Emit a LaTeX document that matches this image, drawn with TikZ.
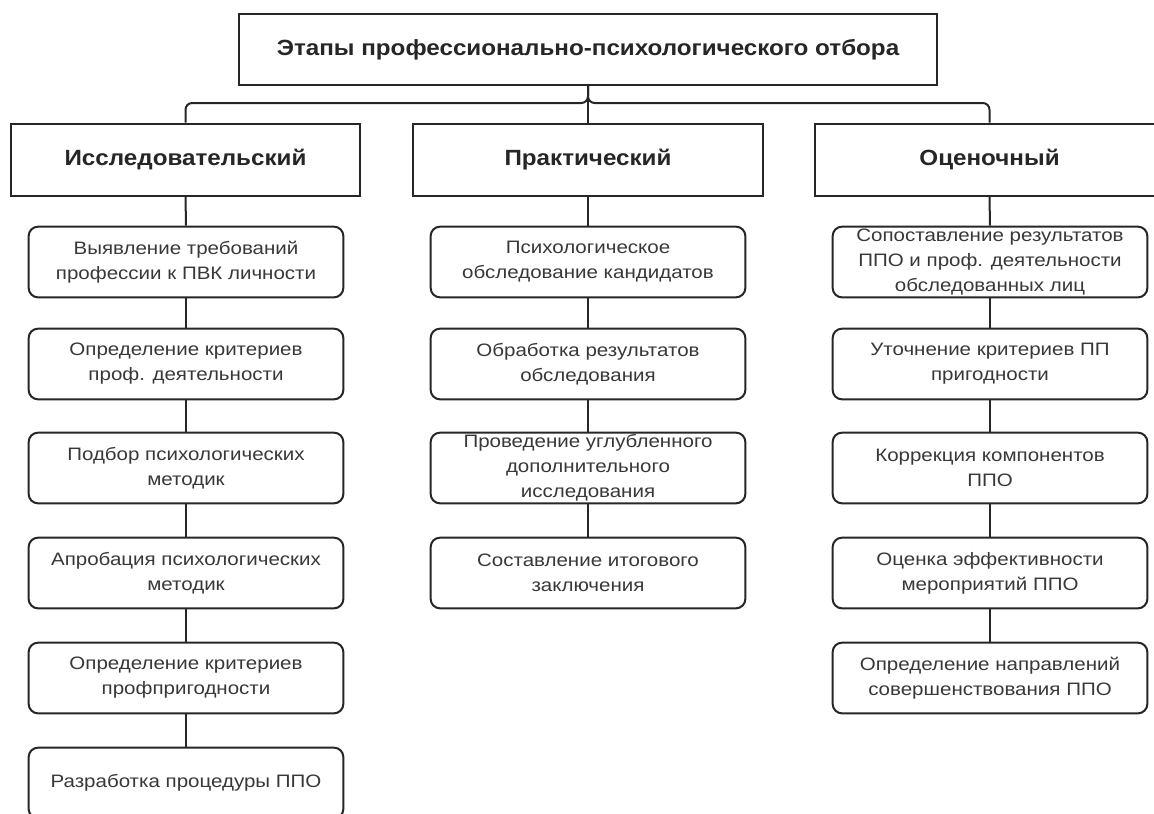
\documentclass[tikz,border=0pt]{standalone}
\usepackage{fontspec}
\setmainfont{Liberation Sans}
\newfontfamily\stagefont[FakeStretch=1.14]{Liberation Sans}
\newfontfamily\headfont[FakeStretch=1.1]{Liberation Sans}
\usetikzlibrary{positioning}
\definecolor{ppoink}{HTML}{262626}
\definecolor{ppotext}{HTML}{383838}
\tikzset{
  head/.style={draw=ppoink, line width=1.5pt, fill=white, inner sep=0pt, minimum width=262pt, minimum height=54pt, font=\headfont\fontsize{16.5}{19}\selectfont\bfseries, text=ppoink},
  stage/.style={draw=ppoink, line width=1.5pt, fill=white, rounded corners=7pt, inner sep=0pt, minimum width=236pt, minimum height=53pt, align=center, font=\stagefont\fontsize{13.5}{18.75}\selectfont, text=ppotext},
  link/.style={draw=ppoink, line width=1.5pt},
}

\begin{document}
\begin{tikzpicture}[x=0.75pt,y=-0.75pt]
  \useasboundingbox (0,0) rectangle (1154,814);
  % top and stage headers
  \node[head, minimum width=524pt, minimum height=53pt] (top) at (588,49.5) {Этапы профессионально-психологического отбора};
  \node[head] (hd1) at (185.5,159.5) {Исследовательский};
  \node[head] (hd2) at (588,159.5) {Практический};
  \node[head] (hd3) at (989.5,159.5) {Оценочный};
  \coordinate (bus) at (588,103);
  \draw[link, rounded corners=5pt] (top.south) -- (bus) -| (hd1.north);
  \draw[link, rounded corners=5pt] (top.south) -- (bus) -| (hd3.north);
  \draw[link] (top.south) -- (hd2.north);
  % columns
  \foreach \y/\t [count=\i] in {262/{Выявление требований\\профессии к ПВК личности},
      364/{Определение критериев\\проф. деятельности},
      468/{Подбор психологических\\методик},
      573/{Апробация психологических\\методик},
      678/{Определение критериев\\профпригодности},
      783/{Разработка процедуры ППО}}
    \node[stage] (r\i) at (186,\y) {\t};
  \foreach \y/\t [count=\i] in {262/{Психологическое\\обследование кандидатов},
      364/{Обработка результатов\\обследования},
      468/{Проведение углубленного\\дополнительного\\исследования},
      573/{Составление итогового\\заключения}}
    \node[stage] (p\i) at (588,\y) {\t};
  \foreach \y/\t [count=\i] in {262/{Сопоставление результатов\\ППО и проф. деятельности\\обследованных лиц},
      364/{Уточнение критериев ПП\\пригодности},
      468/{Коррекция компонентов\\ППО},
      573/{Оценка эффективности\\мероприятий ППО},
      678/{Определение направлений\\совершенствования ППО}}
    \node[stage] (o\i) at (990,\y) {\t};
  % links
  \draw[link] (hd1.south) -- (r1.north);
  \draw[link] (hd2.south) -- (p1.north);
  \draw[link] (hd3.south) -- (o1.north);
  \foreach \a/\b in {1/2,2/3,3/4,4/5,5/6} \draw[link] (r\a.south) -- (r\b.north);
  \foreach \a/\b in {1/2,2/3,3/4} \draw[link] (p\a.south) -- (p\b.north);
  \foreach \a/\b in {1/2,2/3,3/4,4/5} \draw[link] (o\a.south) -- (o\b.north);
\end{tikzpicture}
\end{document}
